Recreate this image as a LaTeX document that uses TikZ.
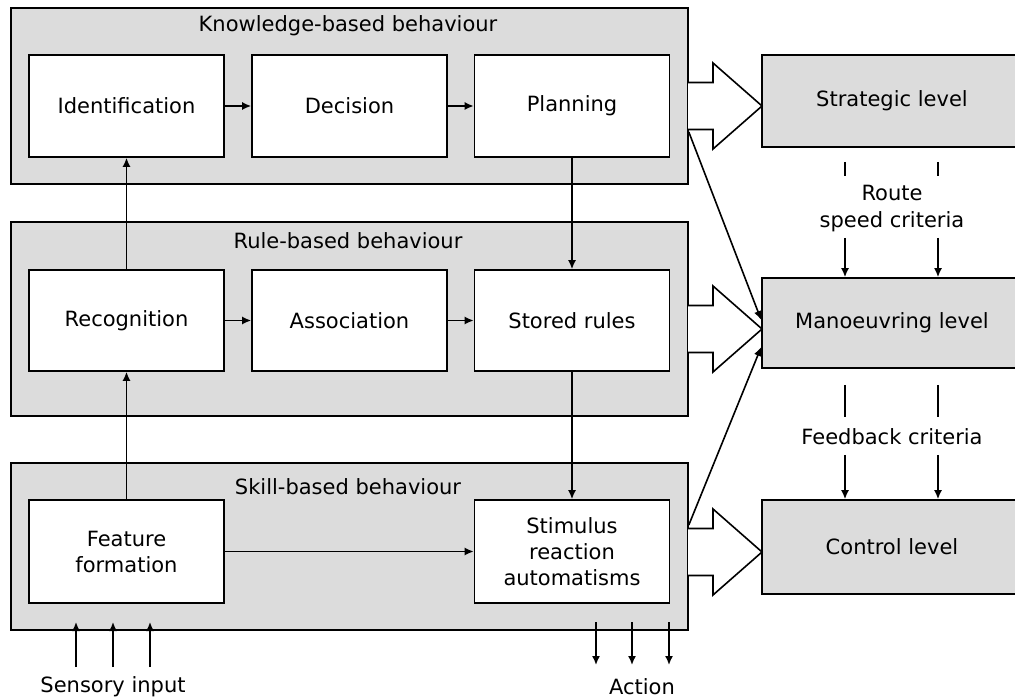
\documentclass[tikz,border=0pt]{standalone}
\usepackage{fontspec}
\setmainfont{DejaVu Sans}
\usetikzlibrary{arrows.meta}
\definecolor{lg}{RGB}{220,220,220}
\begin{document}
\begin{tikzpicture}[x=1pt,y=-1pt,
  font=\fontsize{21}{26}\selectfont,
  layerbox/.style={draw=black, line width=1.6pt, fill=lg, inner sep=0pt},
  inbox/.style={draw=black, line width=1.6pt, fill=white, minimum width=195pt, minimum height=102pt, align=center, inner sep=0pt},
  levelbox/.style={draw=black, line width=1.6pt, fill=lg, minimum width=260pt, inner sep=0pt},
  ttl/.style={inner sep=0pt},
  arr/.style={line width=1.6pt, -{Latex[length=9pt,width=8pt]}},
  tick/.style={line width=1.6pt},
  hollow/.pic={\draw[line width=1.6pt, fill=white, line join=miter] (0,-23.5) -- (25,-23.5) -- (25,-43) -- (74,0) -- (25,43) -- (25,23.5) -- (0,23.5);}
]
\useasboundingbox (0,0) rectangle (1015,700);
% layers
\node[layerbox, minimum width=677pt, minimum height=176pt] (K) at (349.5,96) {};
\node[layerbox, minimum width=677pt, minimum height=194pt] (R) at (349.5,319) {};
\node[layerbox, minimum width=677pt, minimum height=167pt] (S) at (349.5,546.5) {};
\node[ttl] (Kt) at (348,26) {Knowledge-based behaviour};
\node[ttl] (Rt) at (348,241) {Rule-based behaviour};
\node[ttl] (St) at (348,487) {Skill-based behaviour};
% inner boxes
\node[inbox] (Id) at (126.5,106) {Identification};
\node[inbox] (De) at (349.5,106) {Decision};
\node[inbox] (Pl) at (572,106) {Planning};
\node[inbox, minimum height=101pt] (Rec) at (126.5,320.5) {Recognition};
\node[inbox, minimum height=101pt] (As) at (349.5,320.5) {Association};
\node[inbox, minimum height=101pt] (Sr) at (572,320.5) {Stored rules};
\node[inbox, minimum height=103pt] (FF) at (126.5,551.5) {Feature\\formation};
\node[inbox, minimum height=103pt] (SRA) at (572,551.5) {Stimulus\\reaction\\automatisms};
% right levels
\node[levelbox, minimum height=92pt] (SL) at (892,101) {Strategic level};
\node[levelbox, minimum height=90pt] (ML) at (892,323) {Manoeuvring level};
\node[levelbox, minimum height=94pt] (CL) at (892,547) {Control level};
% inner arrows
\draw[arr] (Id) -- (De);
\draw[arr] (De) -- (Pl);
\draw[arr] (Rec) -- (As);
\draw[arr] (As) -- (Sr);
\draw[arr] (FF) -- (SRA);
\draw[arr] (Rec) -- (Id);
\draw[arr] (FF) -- (Rec);
\draw[arr] (Pl) -- (Sr);
\draw[arr] (Sr) -- (SRA);
% hollow arrows
\pic at (688,106) {hollow};
\pic at (688,329) {hollow};
\pic at (688,552) {hollow};
% thin arrows to manoeuvring level
\draw[arr] ([yshift=-36pt]K.east) -- ([yshift=3pt]ML.west);
\draw[arr] ([yshift=21.5pt]S.east) -- ([yshift=-24pt]ML.west);
% route speed criteria
\node[ttl, align=center, font=\fontsize{21}{27}\selectfont] (RS) at (892,208.5) {Route\\speed criteria};
\coordinate (r1a) at (845,162); \coordinate (r1b) at (845,176);
\coordinate (r2a) at (938,162); \coordinate (r2b) at (938,176);
\draw[tick] (r1a) -- (r1b);
\draw[tick] (r2a) -- (r2b);
\coordinate (r1c) at (845,238); \coordinate (r2c) at (938,238);
\draw[arr] (r1c) -- (r1c |- ML.north);
\draw[arr] (r2c) -- (r2c |- ML.north);
% feedback criteria
\node[ttl] (FC) at (892,437) {Feedback criteria};
\coordinate (f1a) at (845,385); \coordinate (f1b) at (845,417);
\coordinate (f2a) at (938,385); \coordinate (f2b) at (938,417);
\draw[tick] (f1a) -- (f1b);
\draw[tick] (f2a) -- (f2b);
\coordinate (f1c) at (845,455); \coordinate (f2c) at (938,455);
\draw[arr] (f1c) -- (f1c |- CL.north);
\draw[arr] (f2c) -- (f2c |- CL.north);
% sensory input
\node[ttl] (SI) at (113,687) {Sensory input};
\foreach \x/\n in {76/a,113/b,150/c}{
  \coordinate (si\n) at (\x,667);
  \draw[arr] (si\n) -- (\x,622);
}
% action
\node[ttl] (AC) at (642,687) {Action};
\foreach \x/\n in {596/a,632/b,669/c}{
  \coordinate (ac\n) at (\x,622);
  \draw[arr] (ac\n) -- (\x,665);
}
\end{tikzpicture}
\end{document}
